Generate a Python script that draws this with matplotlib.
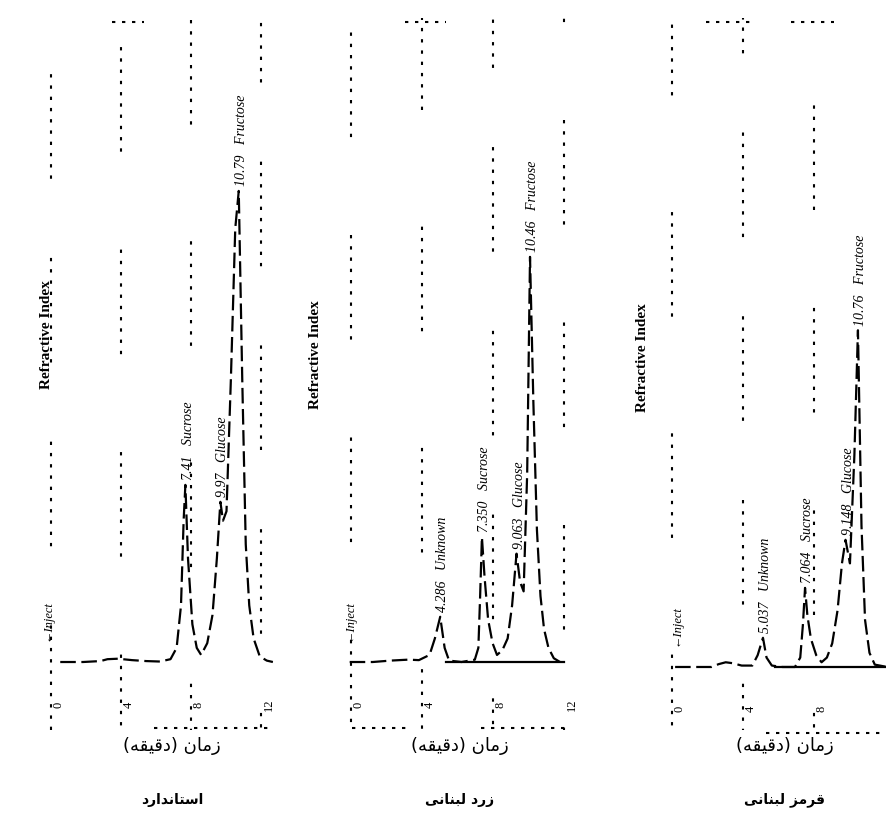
import matplotlib
matplotlib.use("Agg")
import matplotlib.pyplot as plt

# ---------------- data ----------------
tick_times = [0, 4, 8, 12]
tick_labels = ["0", "4", "8", "12"]

# Arabic-script texts (presentation forms, visual order)
x_axis_label = "(\uFEEA\uFED8\uFEF4\uFED7\uFEA9) \uFEE5\uFE8E\uFEE3\uFEAF"          # زمان (دقیقه)
panel_titles = [
    "\uFEA9\uFEAD\uFE8D\uFEAA\uFEE7\uFE8E\uFE98\uFEB3\uFE8D",                        # استاندارد
    "\uFEF0\uFEE7\uFE8E\uFEE8\uFE92\uFEDF \uFEA9\uFEAD\uFEAF",                        # زرد لبنانی
    "\uFEF0\uFEE7\uFE8E\uFEE8\uFE92\uFEDF \uFEB0\uFEE3\uFEAE\uFED7",                  # قرمز لبنانی
]
y_axis_label = "Refractive Index"
inject_label = "\u2190Inject"

# panel 1 : standard
p1_time = [0.3, 1.6, 2.6, 3.0, 3.6, 4.4, 5.2, 6.0, 6.6, 6.95,
           7.2, 7.35, 7.45, 7.6, 7.85, 8.1, 8.35, 8.7, 9.0, 9.25,
           9.45, 9.6, 9.8, 10.05, 10.3, 10.5, 10.7, 10.9, 11.1, 11.35,
           11.7, 12.1, 12.45]
p1_signal = [0, 0, 0.2, 0.6, 0.7, 0.4, 0.2, 0.1, 0.6, 3,
             12, 30, 37.6, 22, 8, 3, 1.5, 4, 10, 22,
             34, 30, 32, 60, 92, 100, 60, 25, 12, 5,
             1.2, 0.3, 0]
p1_peak_names = ["Sucrose", "Glucose", "Fructose"]
p1_peak_rt = ["7.41", "9.97", "10.79"]
p1_peak_t = [7.45, 9.45, 10.5]
p1_peak_h = [37.6, 34, 100]

# panel 2 : yellow Lebanese
p2_time = [-0.3, 1.0, 2.0, 3.0, 3.6, 4.2, 4.5, 4.8, 5.05, 5.3,
           6.0, 6.75, 6.95, 7.05, 7.15, 7.3, 7.5, 7.75, 8.0, 8.3,
           8.6, 8.85, 9.1, 9.3, 9.5, 9.7, 9.86, 10.05, 10.25, 10.45,
           10.65, 10.9, 11.2, 11.55]
p2_signal = [0, 0, 0.3, 0.5, 0.4, 1.5, 5, 9.6, 3, 0.3,
             0, 0.5, 3, 14, 26.5, 18, 9, 4, 1.5, 2.5,
             5, 12, 23, 17, 15, 40, 86, 55, 28, 14,
             7, 3, 0.8, 0]
p2_peak_names = ["Unknown", "Sucrose", "Glucose", "Fructose"]
p2_peak_rt = ["4.286", "7.350", "9.063", "10.46"]
p2_peak_t = [4.8, 7.15, 9.1, 9.86]
p2_peak_h = [9.6, 26.5, 23, 86]

# panel 3 : red Lebanese
p3_time = [-0.05, 1.0, 2.0, 2.4, 2.8, 3.2, 3.7, 4.3, 4.6, 4.9,
           5.1, 5.4, 6.0, 6.7, 7.0, 7.15, 7.27, 7.4, 7.6, 7.9,
           8.2, 8.5, 8.8, 9.1, 9.35, 9.55, 9.8, 10.05, 10.25, 10.45,
           10.65, 10.9, 11.2, 11.9]
p3_signal = [0, 0, 0, 0.6, 1.0, 0.8, 0.3, 0.3, 2.5, 6.2,
             2, 0.3, 0, 0, 2, 9, 16.8, 11, 6, 2.5,
             1, 2, 5, 12, 22, 27, 22, 45, 71.5, 30,
             10, 3, 0.5, 0]
p3_peak_names = ["Unknown", "Sucrose", "Glucose", "Fructose"]
p3_peak_rt = ["5.037", "7.064", "9.148", "10.76"]
p3_peak_t = [4.9, 7.27, 9.55, 10.25]
p3_peak_h = [6.2, 16.8, 27, 71.5]

# ---------------- layout ----------------
W, H = 887, 836
fig = plt.figure(figsize=(W / 100, H / 100), dpi=100)

panels = [
    dict(t=p1_time, s=p1_signal, names=p1_peak_names, rt=p1_peak_rt, pt=p1_peak_t, ph=p1_peak_h,
         rect=[37.5 / W, 76 / H, 248.5 / W, 750 / H], xlim=(-1, 13.2), ylim=(-20.8, 138.4),
         ylab=(47, 335), title_x=172, inj_t=-0.45, base=None,
         top_frag=[(0.30, 0.43)], bot_frag=[(0.47, 0.95)]),
    dict(t=p2_time, s=p2_signal, names=p2_peak_names, rt=p2_peak_rt, pt=p2_peak_t, ph=p2_peak_h,
         rect=[337.25 / W, 76 / H, 252.05 / W, 750 / H], xlim=(-1, 13.2), ylim=(-20.8, 138.4),
         ylab=(316, 355), title_x=460, inj_t=-0.3, base=(0.43, 0.90),
         top_frag=[(0.27, 0.43)], bot_frag=[(0.06, 0.29), (0.57, 0.90)]),
    dict(t=p3_time, s=p3_signal, names=p3_peak_names, rt=p3_peak_rt, pt=p3_peak_t, ph=p3_peak_h,
         rect=[658.25 / W, 76 / H, 228.75 / W, 750 / H], xlim=(-1, 11.887), ylim=(-19.75, 139.5),
         ylab=(643, 358), title_x=785, inj_t=0.05, base=(0.51, 1.0),
         top_frag=[(0.21, 0.42), (0.58, 0.77)], bot_frag=[(0.47, 1.0)]),
]

serif = ["Liberation Serif", "DejaVu Sans"]
for i, p in enumerate(panels):
    ax = fig.add_axes(p["rect"])
    ax.set_xlim(*p["xlim"])
    ax.set_ylim(*p["ylim"])
    ax.axis("off")

    # broken dotted grid lines
    for j, tt in enumerate(tick_times):
        if p["xlim"][0] <= tt <= p["xlim"][1]:
            pattern = (1.6, 3.8) * 9 + (1.6, 38 + 9 * ((i + j) % 3))
            ax.axvline(tt - 0.25, ymin=0.04, ymax=0.99, color="black", lw=1.5,
                       linestyle=(7 * (i + 2 * j), pattern), zorder=1)
            ax.text(tt + 0.2, -9, tick_labels[j], rotation=90, ha="center", va="center",
                    fontsize=9, family=serif)

    # fragments of frame (dotted)
    for a, b in p["top_frag"]:
        ax.axhline(p["ylim"][1] - 2.5, xmin=a, xmax=b, color="black", lw=1.5,
                   linestyle=(0, (1.6, 3.2)))
    for a, b in p["bot_frag"]:
        ax.axhline(-14, xmin=a, xmax=b, color="black", lw=1.5,
                   linestyle=(0, (1.6, 3.2)))

    # integrator baseline
    if p["base"] is not None:
        ax.axhline(0, xmin=p["base"][0], xmax=p["base"][1], color="black", lw=1.6, zorder=2)

    # chromatogram trace
    ax.plot(p["t"], p["s"], color="black", lw=1.6, linestyle=(0, (7, 2.5)), zorder=3)

    # peak labels
    for name, rt, pt, ph in zip(p["names"], p["rt"], p["pt"], p["ph"]):
        ax.text(pt + 0.15, ph + 1.0, f"{rt}   {name}", rotation=90, ha="center", va="bottom",
                fontsize=10, style="italic", family=serif)

    # inject marker
    ax.text(p["inj_t"], 4.5, inject_label, rotation=90, ha="center", va="bottom",
            fontsize=9, style="italic", family=serif)

    # y label
    fig.text(p["ylab"][0] / W, 1 - p["ylab"][1] / H, y_axis_label, rotation=90,
             ha="center", va="center", fontsize=11, weight="bold", family=serif)

    # x label and title
    fig.text(p["title_x"] / W, 1 - 746 / H, x_axis_label, ha="center", va="center",
             fontsize=13, family=["DejaVu Sans"])
    fig.text(p["title_x"] / W, 1 - 800 / H, panel_titles[i], ha="center", va="center",
             fontsize=10, weight="bold", family=["DejaVu Sans"])

fig.savefig("out.png", dpi=100, facecolor="white")
